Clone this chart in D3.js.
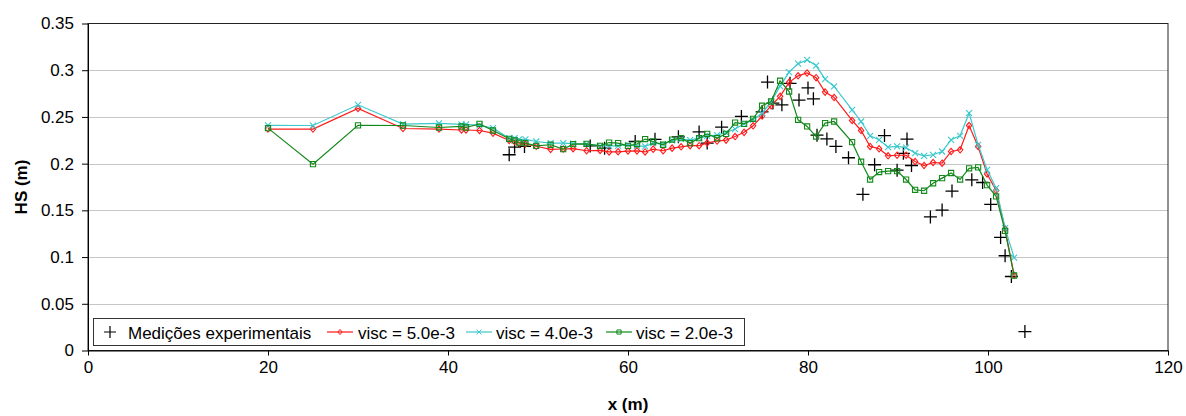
<!DOCTYPE html>
<html>
<head>
<meta charset="utf-8">
<script src="https://cdn.jsdelivr.net/npm/d3@7"></script>
<style>
  body { margin: 0; background: #fff; }
  svg { display: block; font-family: Arial, "Liberation Sans", sans-serif; }
</style>
</head>
<body>
<svg id="chart" width="1186" height="416"></svg>
<script>
// Simulated significant wave height along the channel (three viscosity runs)
const xSim = [20, 25, 30, 35, 39, 41.5, 42, 43.5, 45, 46.8, 47.4, 47.9, 48.6, 49.8, 51.4, 52.8, 53.9,
  55.4, 56.9, 57.9, 58.9, 60, 61, 61.9, 62.8, 63.9, 64.9, 65.9, 66.9, 67.9, 68.8, 69.9, 70.9, 71.9,
  72.9, 73.9, 74.9, 75.9, 76.9, 77.9, 78.9, 79.9, 80.9, 81.9, 82.9, 84.9, 85.9, 86.9, 87.9, 88.9,
  89.9, 90.9, 91.9, 92.9, 93.9, 94.9, 95.9, 96.9, 97.9, 98.9, 99.9, 100.9, 101.9, 102.9];

const hsVisc5 = [0.237, 0.237, 0.259, 0.2376, 0.237, 0.236, 0.236, 0.2355, 0.2327, 0.2248, 0.2237, 0.222,
  0.221, 0.2186, 0.2153, 0.2157, 0.216, 0.2138, 0.2142, 0.2125, 0.2127, 0.2135, 0.2137, 0.2125, 0.2155,
  0.2138, 0.2166, 0.218, 0.2192, 0.2192, 0.2222, 0.2242, 0.2252, 0.229, 0.2335, 0.2405, 0.251, 0.262,
  0.272, 0.287, 0.294, 0.297, 0.292, 0.2766, 0.2708, 0.2462, 0.2355, 0.2184, 0.2159, 0.2084, 0.209,
  0.209, 0.2023, 0.198, 0.2012, 0.2005, 0.213, 0.2148, 0.2408, 0.2184, 0.189, 0.1712, 0.13, 0.0805];

const hsVisc4 = [0.241, 0.2408, 0.263, 0.2423, 0.243, 0.242, 0.242, 0.241, 0.238, 0.2273, 0.2273, 0.226,
  0.226, 0.2237, 0.222, 0.222, 0.2215, 0.2212, 0.219, 0.219, 0.219, 0.2202, 0.219, 0.2184, 0.222,
  0.221, 0.2248, 0.2263, 0.2252, 0.2273, 0.2298, 0.2305, 0.2333, 0.237, 0.2426, 0.247, 0.254, 0.266,
  0.283, 0.298, 0.307, 0.311, 0.305, 0.2905, 0.2826, 0.2576, 0.2451, 0.2298, 0.2255, 0.2177, 0.2184,
  0.2172, 0.2113, 0.2084, 0.2095, 0.213, 0.2255, 0.2298, 0.254, 0.2202, 0.1934, 0.1738, 0.131, 0.0995];

const hsVisc2 = [0.238, 0.1995, 0.241, 0.2408, 0.2387, 0.2398, 0.2387, 0.2426, 0.2355, 0.2266, 0.2248,
  0.2226, 0.222, 0.219, 0.2202, 0.2155, 0.2209, 0.2212, 0.219, 0.2226, 0.222, 0.219, 0.221, 0.2263,
  0.2237, 0.2202, 0.2258, 0.2273, 0.222, 0.2273, 0.2319, 0.2273, 0.2319, 0.244, 0.2426, 0.248, 0.262,
  0.2665, 0.2887, 0.2772, 0.2469, 0.2398, 0.229, 0.2434, 0.2451, 0.223, 0.202, 0.183, 0.191, 0.192,
  0.192, 0.183, 0.172, 0.171, 0.179, 0.1845, 0.19, 0.183, 0.195, 0.196, 0.177, 0.165, 0.128, 0.0803];

// Experimental measurements
const xExp = [46.8, 47.4, 48.5, 55.8, 57.4, 60.8, 63.0, 65.6, 67.9, 68.8, 70.4, 72.6, 74.9, 75.5, 76.1,
  77.1, 78.0, 79.0, 80.0, 80.6, 81.0, 82.1, 83.1, 84.5, 86.1, 87.4, 88.5, 89.9, 90.6, 91.0, 91.5,
  93.6, 94.9, 96.0, 98.2, 99.4, 100.3, 101.4, 101.9, 102.6, 104.1];
const hsExp = [0.2095, 0.2177, 0.2184, 0.219, 0.2166, 0.2237, 0.226, 0.2287, 0.234, 0.222, 0.239, 0.2505,
  0.2555, 0.2873, 0.2648, 0.263, 0.286, 0.268, 0.281, 0.2694, 0.2305, 0.2265, 0.2184, 0.2063, 0.1672,
  0.1988, 0.23, 0.193, 0.211, 0.2263, 0.198, 0.143, 0.1503, 0.1706, 0.1827, 0.1798, 0.1563, 0.121,
  0.1014, 0.0792, 0.0203];

const xTicks = [0, 20, 40, 60, 80, 100, 120];
const yTicks = [0, 0.05, 0.1, 0.15, 0.2, 0.25, 0.3, 0.35];
const seriesNames = ["Medições experimentais", "visc = 5.0e-3", "visc = 4.0e-3", "visc = 2.0e-3"];

const svg = d3.select("#chart");
const plotL = 88, plotR = 1168, plotT = 23.5, plotB = 350.5;

const x = d3.scaleLinear().domain([0, 120]).range([plotL, plotR]);
const y = d3.scaleLinear().domain([0, 0.35]).range([plotB, plotT]);

// horizontal gridlines
svg.append("g").selectAll("line")
  .data(yTicks.filter(v => v > 0 && v < 0.35))
  .join("line")
  .attr("x1", plotL).attr("x2", plotR)
  .attr("y1", d => Math.round(y(d)) + 0.5).attr("y2", d => Math.round(y(d)) + 0.5)
  .attr("stroke", "#c6c6c6").attr("stroke-width", 1);

// plot-area frame
svg.append("rect")
  .attr("x", plotL).attr("y", plotT).attr("width", plotR - plotL).attr("height", plotB - plotT)
  .attr("fill", "none").attr("stroke", "#222").attr("stroke-width", 1);

// axes
const xAxis = d3.axisBottom(x).tickValues(xTicks).tickSize(5).tickSizeOuter(0).tickPadding(5)
  .tickFormat(d3.format("d"));
const gx = svg.append("g").attr("transform", `translate(0,${plotB})`).call(xAxis);
gx.selectAll("text").attr("font-size", 17).attr("fill", "#000")
  .attr("font-family", "Arial, 'Liberation Sans', sans-serif");
gx.selectAll("line, path").attr("stroke", "#000");

const yAxis = d3.axisLeft(y).tickValues(yTicks).tickSize(6).tickSizeOuter(0).tickPadding(8)
  .tickFormat(d => d === 0 ? "0" : String(+d.toFixed(2)));
const gy = svg.append("g").attr("transform", `translate(${plotL},0)`).call(yAxis);
gy.selectAll("text").attr("font-size", 17).attr("fill", "#000")
  .attr("font-family", "Arial, 'Liberation Sans', sans-serif");
gy.selectAll("line, path").attr("stroke", "#000");

// axis titles
svg.append("text").attr("x", (plotL + plotR) / 2).attr("y", 410)
  .attr("text-anchor", "middle").attr("font-size", 17).attr("font-weight", "bold").text("x (m)");
svg.append("text").attr("transform", `translate(27,${(plotT + plotB) / 2}) rotate(-90)`)
  .attr("text-anchor", "middle").attr("font-size", 17).attr("font-weight", "bold").text("HS (m)");

// marker shapes
const plusPath = (cx, cy, r) => `M${cx - r},${cy}H${cx + r}M${cx},${cy - r}V${cy + r}`;
const diamondPath = (cx, cy, r) => `M${cx},${cy - r}L${cx + r * 0.85},${cy}L${cx},${cy + r}L${cx - r * 0.85},${cy}Z`;
const crossPath = (cx, cy, r) => `M${cx - r},${cy - r}L${cx + r},${cy + r}M${cx - r},${cy + r}L${cx + r},${cy - r}`;
const squarePath = (cx, cy, r) => `M${cx - r},${cy - r}H${cx + r}V${cy + r}H${cx - r}Z`;

// experimental points
const expPts = xExp.map((v, i) => [v, hsExp[i]]);
svg.append("g").selectAll("path").data(expPts).join("path")
  .attr("d", d => plusPath(x(d[0]), y(d[1]), 6.5))
  .attr("stroke", "#000").attr("stroke-width", 1.3).attr("fill", "none");

const series = [
  { values: hsVisc5, color: "#ff1a1a", shape: diamondPath, r: 3.2, sw: 1.1 },
  { values: hsVisc4, color: "#3cc8cc", shape: crossPath, r: 3, sw: 1.1 },
  { values: hsVisc2, color: "#12891a", shape: squarePath, r: 2.6, sw: 1.1 }
];

const line = d3.line().x(d => x(d[0])).y(d => y(d[1]));
series.forEach(s => {
  const pts = xSim.map((v, i) => [v, s.values[i]]);
  const g = svg.append("g");
  g.append("path").datum(pts).attr("d", line)
    .attr("fill", "none").attr("stroke", s.color).attr("stroke-width", 1.2);
  g.selectAll("path.m").data(pts).join("path").attr("class", "m")
    .attr("d", d => s.shape(x(d[0]), y(d[1]), s.r))
    .attr("fill", "none").attr("stroke", s.color).attr("stroke-width", s.sw);
});

// legend
const lg = svg.append("g");
lg.append("rect").attr("x", 93.5).attr("y", 318.5).attr("width", 651).attr("height", 27)
  .attr("fill", "#fff").attr("stroke", "#333").attr("stroke-width", 1);
const ly = 332, textY = 338.5;
lg.append("path").attr("d", plusPath(110, ly, 6)).attr("stroke", "#000").attr("stroke-width", 1.2);
lg.append("text").attr("x", 128).attr("y", textY).attr("font-size", 17).text(seriesNames[0]);
const legendX = [[327, 358], [466, 496], [606, 636]];
series.forEach((s, i) => {
  const [lx, tx] = legendX[i];
  lg.append("line").attr("x1", lx).attr("x2", lx + 26).attr("y1", ly).attr("y2", ly)
    .attr("stroke", s.color).attr("stroke-width", 1.2);
  lg.append("path").attr("d", s.shape(lx + 13, ly, s.r * 0.8))
    .attr("fill", "none").attr("stroke", s.color).attr("stroke-width", 1);
  lg.append("text").attr("x", tx).attr("y", textY).attr("font-size", 17).text(seriesNames[i + 1]);
});
</script>
</body>
</html>
